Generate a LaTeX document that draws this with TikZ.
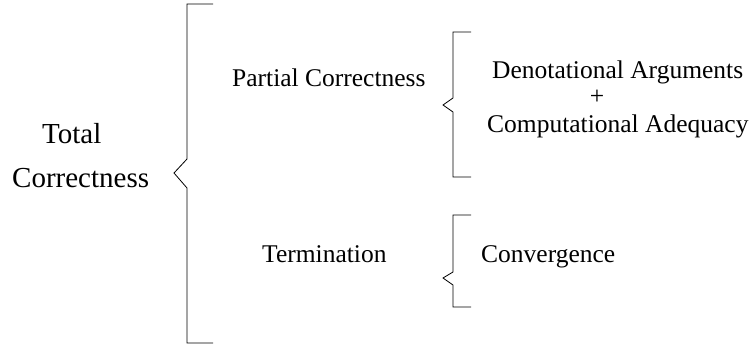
\documentclass[tikz,border=0pt]{standalone}
\usepackage{fontspec}
\setmainfont{Liberation Serif}
\begin{document}
\begin{tikzpicture}[x=1pt,y=-1pt,
  brace/.style={draw=black,line width=0.8pt,line join=miter},
  big/.style={inner sep=0pt,anchor=base west,font=\fontsize{29}{34}\selectfont},
  small/.style={inner sep=0pt,anchor=base west,font=\fontsize{25.5}{30}\selectfont}]
\useasboundingbox (0,0) rectangle (754,349);

% left column
\node[big] (total) at (42,143) {Total};
\node[big] (corr) at (12,187) {Correctness};

% middle column
\node[small] (partial) at (232,86) {Partial Correctness};
\node[small] (term) at (262,262) {Termination};

% right column
\node[small] (denot) at (492,78) {Denotational Arguments};
\node[small,anchor=base] (plus) at (597,104) {+};
\node[small] (comp) at (487,132) {Computational Adequacy};
\node[small] (conv) at (481,262) {Convergence};

% braces
\draw[brace] (213,4) -- (187,4) -- (187,159) -- (174,173) -- (187,188) -- (187,343) -- (213,343);
\draw[brace] (471,32) -- (453,32) -- (453,98) -- (443,105) -- (453,112) -- (453,177) -- (471,177);
\draw[brace] (471,215) -- (453,215) -- (453,272) -- (443,278) -- (453,285) -- (453,307) -- (471,307);
\end{tikzpicture}
\end{document}
